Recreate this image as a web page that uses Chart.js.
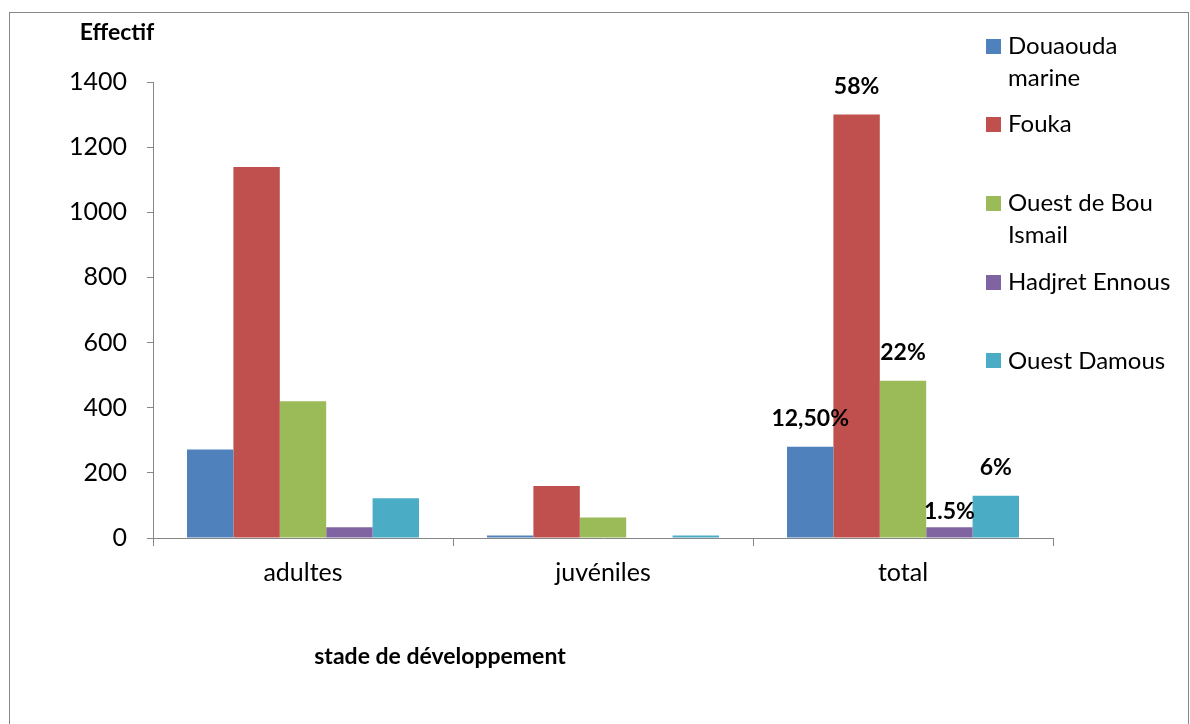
<!DOCTYPE html>
<html lang="fr">
<head>
    <meta charset="UTF-8">
    <title>Effectif par stade de développement</title>
    <script src="https://cdn.jsdelivr.net/npm/chart.js"></script>
    <style>
        body { margin: 0; background: #fff; }
        #wrap { position: relative; width: 1190px; height: 724px; }
    </style>
</head>
<body>
    <div id="wrap"><canvas id="chart"></canvas></div>

    <script>
        // data
        const categories = ['adultes', 'juvéniles', 'total'];
        const sites = [['Douaouda', 'marine'], ['Fouka'], ['Ouest de Bou', 'Ismail'], ['Hadjret Ennous'], ['Ouest Damous']];
        const douaouda = [272, 8, 280];
        const fouka = [1139, 160, 1300];
        const ouestBou = [420, 63, 483];
        const hadjret = [33, 0, 33];
        const damous = [122, 8, 130];
        const totalLabels = ['12,50%', '58%', '22%', '1.5%', '6%'];
        const yTicks = [0, 200, 400, 600, 800, 1000, 1200, 1400];

        const colors = ['#4F81BD', '#C0504D', '#9BBB59', '#8064A2', '#4BACC6'];
        const series = [douaouda, fouka, ouestBou, hadjret, damous];
        const font = "Lato, 'Open Sans', sans-serif";
        const axisGray = '#868686';

        const extras = {
            id: 'extras',
            beforeDraw(chart) {
                const ctx = chart.ctx;
                ctx.save();
                ctx.strokeStyle = axisGray;
                ctx.lineWidth = 1;
                ctx.strokeRect(9.5, 12.5, 1179, 800);
                ctx.restore();
            },
            afterDraw(chart) {
                const ctx = chart.ctx;
                ctx.save();
                ctx.fillStyle = '#000';
                ctx.textAlign = 'center';
                ctx.textBaseline = 'middle';
                ctx.font = 'bold 23px ' + font;
                ctx.fillText('Effectif', 117, 33);
                ctx.fillText('stade de développement', 440, 657);

                // percentage labels on the "total" bars
                chart.data.datasets.forEach((ds, i) => {
                    const bar = chart.getDatasetMeta(i).data[2];
                    const lift = i === 3 ? 16 : 28;
                    ctx.fillText(totalLabels[i], bar.x, bar.y - lift);
                });

                // legend
                ctx.textAlign = 'left';
                ctx.font = '24px ' + font;
                chart.data.datasets.forEach((ds, i) => {
                    const cy = 46 + i * 78.7;
                    ctx.fillStyle = ds.backgroundColor;
                    ctx.fillRect(986, Math.round(cy - 7.5), 15, 15);
                    ctx.fillStyle = '#000';
                    ds.label.forEach((line, k) => {
                        ctx.fillText(line, 1008, cy + k * 32);
                    });
                });
                ctx.restore();
            }
        };

        new Chart(document.getElementById('chart'), {
            type: 'bar',
            data: {
                labels: categories,
                datasets: series.map((vals, i) => ({
                    label: sites[i],
                    data: vals,
                    backgroundColor: colors[i],
                    categoryPercentage: 0.7733,
                    barPercentage: 1
                }))
            },
            options: {
                responsive: true,
                maintainAspectRatio: false,
                animation: false,
                layout: { padding: { top: 82, right: 137, left: 0, bottom: 0 } },
                plugins: {
                    legend: { display: false },
                    tooltip: { enabled: false }
                },
                scales: {
                    x: {
                        offset: true,
                        afterFit(axis) { axis.height = 186; },
                        grid: {
                            offset: true,
                            drawOnChartArea: false,
                            tickLength: 8,
                            color: axisGray
                        },
                        border: { color: axisGray },
                        ticks: {
                            padding: 12,
                            color: '#000',
                            font: { family: font, size: 25 }
                        }
                    },
                    y: {
                        min: 0,
                        max: 1400,
                        afterFit(axis) { axis.width = 153; },
                        afterBuildTicks(axis) { axis.ticks = yTicks.map(v => ({ value: v })); },
                        grid: {
                            drawOnChartArea: false,
                            tickLength: 6,
                            color: axisGray
                        },
                        border: { color: axisGray },
                        ticks: {
                            padding: 20,
                            color: '#000',
                            font: { family: font, size: 25 },
                            callback: v => String(v)
                        }
                    }
                }
            },
            plugins: [extras]
        });
    </script>
</body>
</html>
